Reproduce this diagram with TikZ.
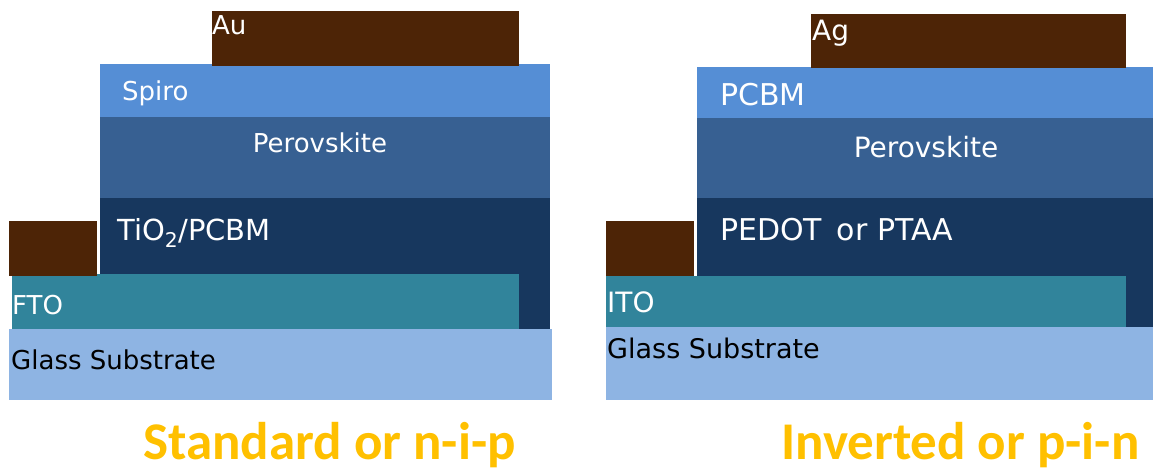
\documentclass[tikz,border=0pt]{standalone}
\usepackage{fontspec}
\setmainfont{DejaVu Sans}
\newfontfamily\titlefont{Carlito}
\usetikzlibrary{positioning}
\definecolor{oro}{RGB}{77,36,6}
\definecolor{htl}{RGB}{85,142,213}
\definecolor{perov}{RGB}{55,96,146}
\definecolor{etl}{RGB}{23,55,94}
\definecolor{tco}{RGB}{49,132,155}
\definecolor{vidrio}{RGB}{142,180,227}
\definecolor{titulo}{RGB}{255,192,0}

\begin{document}
\begin{tikzpicture}[x=1pt, y=-1pt,
  capa/.style={font=\fontsize{26}{28}\selectfont, text=white, inner sep=0pt},
  capader/.style={capa, font=\fontsize{28}{30}\selectfont},
  capagrande/.style={capa, font=\fontsize{30}{32}\selectfont},
  rotulo/.style={font=\titlefont\bfseries\fontsize{53}{57}\selectfont,
                 text=titulo, inner sep=0pt, anchor=base west}]
  \useasboundingbox (0,0) rectangle (1153,470);
  % n-i-p
  \fill[etl] (100,197) rectangle (550,330);
  \fill[tco] (12,274) rectangle (519,330);
  \fill[vidrio] (9,329) rectangle (552,400);
  \fill[perov] (100,117) rectangle (550,198);
  \fill[htl] (100,64) rectangle (550,117);
  \fill[oro] (212,11) rectangle (519,66);
  \fill[oro] (9,221) rectangle (97,276);
  \node[capa, anchor=west] (au) at (212,25) {Au};
  \node[capa, anchor=west] (spiro) at (122,93) {Spiro};
  \node[capa] (perovizq) at (320,143) {Perovskite};
  \node[capagrande, font=\fontsize{29}{31}\selectfont, anchor=west] (tio) at (117,233) {TiO\textsubscript{2}/PCBM};
  \node[capa, anchor=west] (fto) at (12,305) {FTO};
  \node[capa, anchor=west, text=black] (vidrioizq) at (11,360) {Glass Substrate};
  % p-i-n
  \fill[etl] (697,198) rectangle (1153,327);
  \fill[tco] (606,276) rectangle (1126,327);
  \fill[vidrio] (606,327) rectangle (1153,400);
  \fill[perov] (697,118) rectangle (1153,198);
  \fill[htl] (697,67) rectangle (1153,118);
  \fill[oro] (811,14) rectangle (1126,68);
  \fill[oro] (606,221) rectangle (694,276);
  \node[capader, anchor=west] (ag) at (812,33) {Ag};
  \node[capagrande, anchor=west] (pcbm) at (720,95) {PCBM};
  \node[capader] (perovder) at (926,147) {Perovskite};
  \node[capagrande, anchor=west] (pedot) at (720,230) {PEDOT\, or PTAA};
  \node[capader, anchor=west] (ito) at (607,302) {ITO};
  \node[capa, font=\fontsize{27}{29}\selectfont, anchor=west, text=black] (vidrioder) at (607,348) {Glass Substrate};
  \node[rotulo] (estandar) at (143,459) {Standard or n-i-p};
  \node[rotulo] (invertida) at (781,459) {Inverted or p-i-n};
\end{tikzpicture}
\end{document}
